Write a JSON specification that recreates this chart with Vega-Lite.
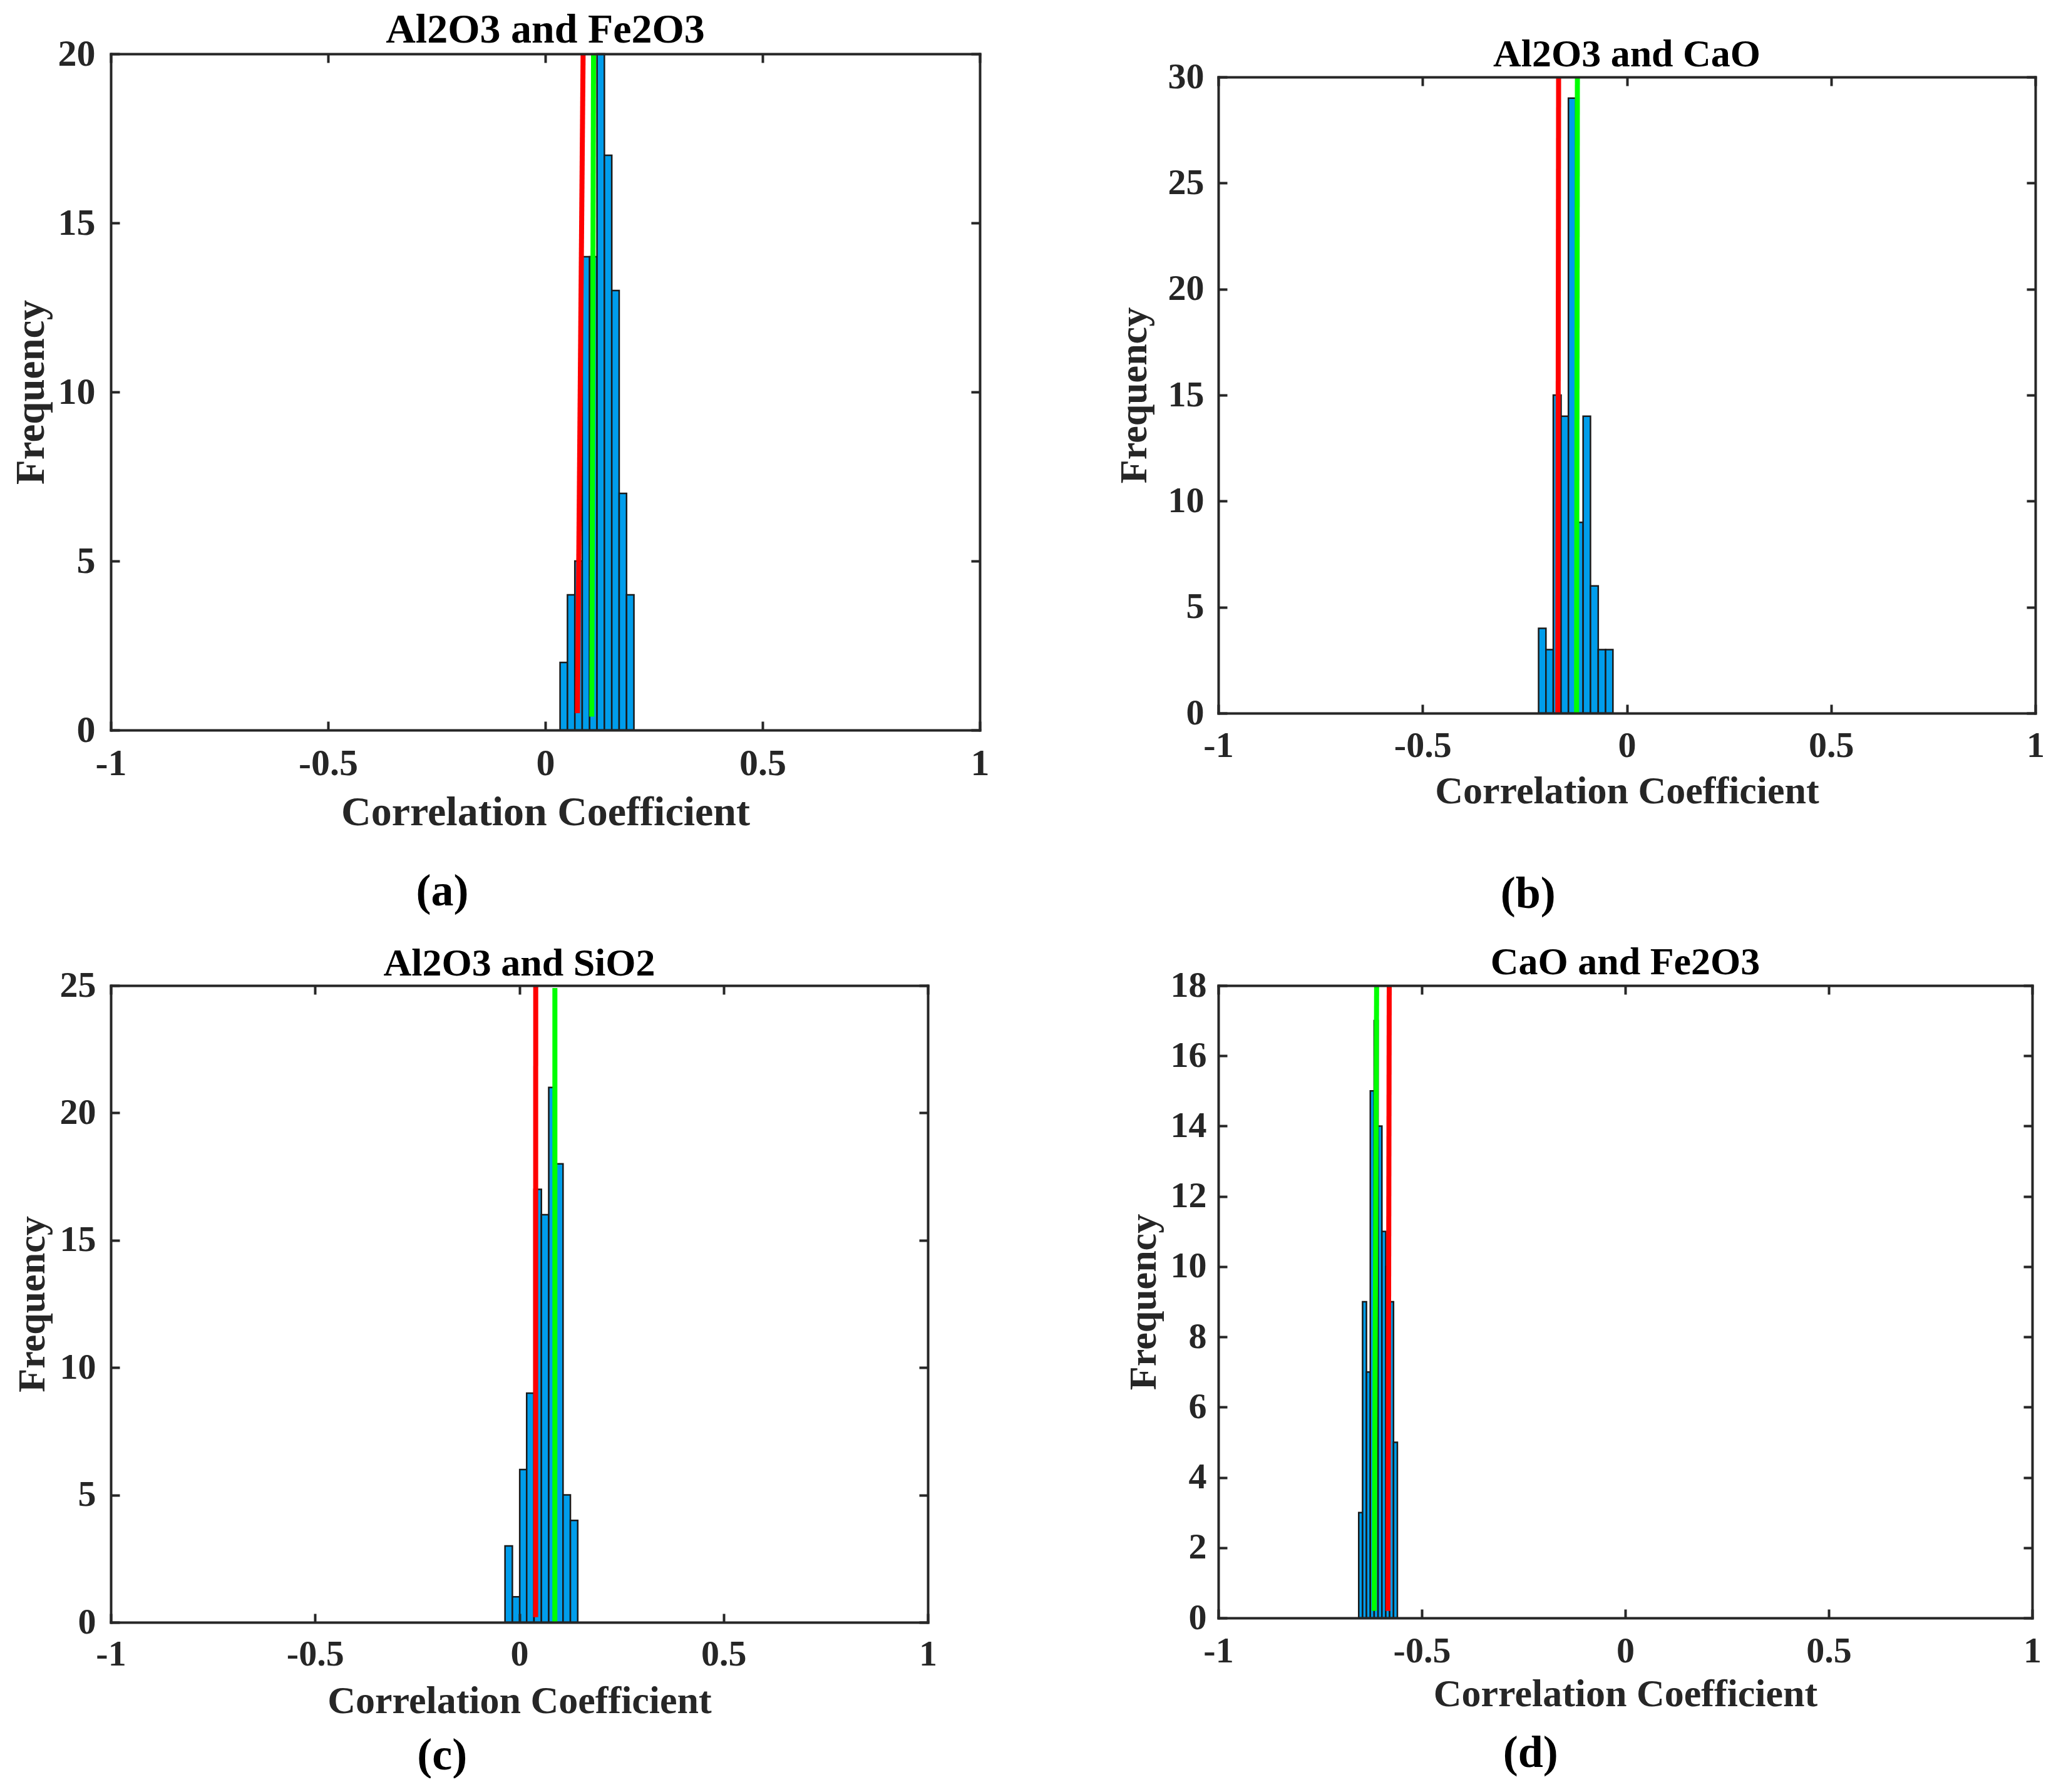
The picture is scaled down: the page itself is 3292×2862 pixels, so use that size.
{
  "$schema": "https://vega.github.io/schema/vega-lite/v6.json",
  "background": "white",
  "padding": {"left": 17, "top": 15, "right": 0, "bottom": 0},
  "config": {
    "font": "Liberation Serif",
    "view": {"stroke": null},
    "title": {"font": "Liberation Serif", "fontWeight": "bold", "color": "#000000", "anchor": "middle"},
    "axis": {
      "labelFont": "Liberation Serif", "titleFont": "Liberation Serif",
      "labelFontWeight": "bold", "titleFontWeight": "bold",
      "labelColor": "#262626", "titleColor": "#262626",
      "domainColor": "#262626", "domainWidth": 4, "domainCap": "square",
      "tickColor": "#262626", "tickWidth": 4, "tickSize": -14,
      "grid": false, "labelFlush": false, "labelOverlap": false
    }
  },
  "datasets": {
    "bars": [
      {"p": "a", "x0": 0.034, "x1": 0.051, "n": 2},
      {"p": "a", "x0": 0.051, "x1": 0.068, "n": 4},
      {"p": "a", "x0": 0.068, "x1": 0.085, "n": 5},
      {"p": "a", "x0": 0.085, "x1": 0.102, "n": 14},
      {"p": "a", "x0": 0.102, "x1": 0.119, "n": 14},
      {"p": "a", "x0": 0.119, "x1": 0.136, "n": 20},
      {"p": "a", "x0": 0.136, "x1": 0.153, "n": 17},
      {"p": "a", "x0": 0.153, "x1": 0.170, "n": 13},
      {"p": "a", "x0": 0.170, "x1": 0.187, "n": 7},
      {"p": "a", "x0": 0.187, "x1": 0.204, "n": 4},
      {"p": "b", "x0": -0.216, "x1": -0.198, "n": 4},
      {"p": "b", "x0": -0.198, "x1": -0.180, "n": 3},
      {"p": "b", "x0": -0.180, "x1": -0.161, "n": 15},
      {"p": "b", "x0": -0.161, "x1": -0.143, "n": 14},
      {"p": "b", "x0": -0.143, "x1": -0.125, "n": 29},
      {"p": "b", "x0": -0.125, "x1": -0.107, "n": 9},
      {"p": "b", "x0": -0.107, "x1": -0.089, "n": 14},
      {"p": "b", "x0": -0.089, "x1": -0.070, "n": 6},
      {"p": "b", "x0": -0.070, "x1": -0.052, "n": 3},
      {"p": "b", "x0": -0.052, "x1": -0.034, "n": 3},
      {"p": "c", "x0": -0.035, "x1": -0.017, "n": 3},
      {"p": "c", "x0": -0.017, "x1": 0.001, "n": 1},
      {"p": "c", "x0": 0.001, "x1": 0.018, "n": 6},
      {"p": "c", "x0": 0.018, "x1": 0.036, "n": 9},
      {"p": "c", "x0": 0.036, "x1": 0.054, "n": 17},
      {"p": "c", "x0": 0.054, "x1": 0.072, "n": 16},
      {"p": "c", "x0": 0.072, "x1": 0.090, "n": 21},
      {"p": "c", "x0": 0.090, "x1": 0.107, "n": 18},
      {"p": "c", "x0": 0.107, "x1": 0.125, "n": 5},
      {"p": "c", "x0": 0.125, "x1": 0.143, "n": 4},
      {"p": "d", "x0": -0.655, "x1": -0.6455, "n": 3},
      {"p": "d", "x0": -0.6455, "x1": -0.636, "n": 9},
      {"p": "d", "x0": -0.636, "x1": -0.6265, "n": 7},
      {"p": "d", "x0": -0.6265, "x1": -0.617, "n": 15},
      {"p": "d", "x0": -0.617, "x1": -0.6075, "n": 17},
      {"p": "d", "x0": -0.6075, "x1": -0.598, "n": 14},
      {"p": "d", "x0": -0.598, "x1": -0.5885, "n": 11},
      {"p": "d", "x0": -0.5885, "x1": -0.579, "n": 10},
      {"p": "d", "x0": -0.579, "x1": -0.5695, "n": 9},
      {"p": "d", "x0": -0.5695, "x1": -0.560, "n": 5}
    ],
    "lines": [
      {"p": "a", "s": "red", "x": 0.074, "y": 0.5},
      {"p": "a", "s": "red", "x": 0.087, "y": 20},
      {"p": "a", "s": "green", "x": 0.107, "y": 0.4},
      {"p": "a", "s": "green", "x": 0.111, "y": 20},
      {"p": "b", "s": "red", "x": -0.169, "y": 0},
      {"p": "b", "s": "red", "x": -0.167, "y": 30},
      {"p": "b", "s": "green", "x": -0.123, "y": 0},
      {"p": "b", "s": "green", "x": -0.121, "y": 30},
      {"p": "c", "s": "red", "x": 0.040, "y": 0.2},
      {"p": "c", "s": "red", "x": 0.0401, "y": 25},
      {"p": "c", "s": "green", "x": 0.087, "y": 0},
      {"p": "c", "s": "green", "x": 0.0871, "y": 24.9},
      {"p": "d", "s": "green", "x": -0.617, "y": 0.2},
      {"p": "d", "s": "green", "x": -0.611, "y": 18},
      {"p": "d", "s": "red", "x": -0.583, "y": 0.2},
      {"p": "d", "s": "red", "x": -0.580, "y": 18}
    ]
  },
  "columns": 2,
  "align": {"row": "each", "column": "each"},
  "center": {"row": true},
  "spacing": {"row": 5, "column": 200},
  "concat": [
    {
      "title": {"text": ["(a)", ""], "orient": "bottom", "anchor": "middle", "dx": -92, "offset": 59, "fontSize": 72, "baseline": "top", "lineHeight": 41},
      "vconcat": [
        {
          "width": 1388, "height": 1080,
          "title": {"text": "Al2O3 and Fe2O3", "fontSize": 66, "offset": -78, "baseline": "alphabetic"},
          "layer": [
            {
              "data": {"name": "bars"},
              "transform": [{"filter": "datum.p === 'a'"}],
              "mark": {"type": "bar", "fill": "#009DEB", "stroke": "#1a1a1a", "strokeWidth": 2.5},
              "encoding": {
                "x": {"field": "x0", "type": "quantitative", "scale": {"domain": [-1, 1], "nice": false, "zero": false},
                  "axis": {"orient": "bottom", "values": [-1, -0.5, 0, 0.5, 1], "labelExpr": "toString(datum.value)", "title": "Correlation Coefficient", "titleFontSize": 66, "labelFontSize": 60, "labelPadding": 38, "titlePadding": 16, "zindex": 1}},
                "x2": {"field": "x1"},
                "y": {"field": "n", "type": "quantitative", "scale": {"domain": [0, 20], "nice": false},
                  "axis": {"orient": "left", "values": [0, 5, 10, 15, 20], "title": "Frequency", "titleFontSize": 65, "labelFontSize": 60, "labelPadding": 39, "titlePadding": 9, "zindex": 1}},
                "y2": {"datum": 0}
              }
            },
            {
              "data": {"name": "lines"},
              "transform": [{"filter": "datum.p === 'a'"}],
              "mark": {"type": "line", "strokeWidth": 8, "strokeCap": "butt"},
              "encoding": {
                "x": {"field": "x", "type": "quantitative", "scale": {"domain": [-1, 1], "nice": false, "zero": false},
                  "axis": {"orient": "top", "values": [-1, -0.5, 0, 0.5, 1], "labels": false, "title": null, "zindex": 1}},
                "y": {"field": "y", "type": "quantitative", "scale": {"domain": [0, 20], "nice": false},
                  "axis": {"orient": "right", "values": [0, 5, 10, 15, 20], "labels": false, "title": null, "zindex": 1}},
                "color": {"field": "s", "type": "nominal", "scale": {"domain": ["red", "green"], "range": ["#FF0000", "#00FF00"]}, "legend": null}
              }
            }
          ],
          "resolve": {"axis": {"x": "independent", "y": "independent"}}
        }
      ]
    },
    {
      "title": {"text": "(b)", "orient": "bottom", "anchor": "middle", "dx": -82, "offset": 99, "fontSize": 72, "baseline": "top"},
      "vconcat": [
        {
          "width": 1305, "height": 1016,
          "title": {"text": "Al2O3 and CaO", "fontSize": 62, "offset": -74, "baseline": "alphabetic"},
          "layer": [
            {
              "data": {"name": "bars"},
              "transform": [{"filter": "datum.p === 'b'"}],
              "mark": {"type": "bar", "fill": "#009DEB", "stroke": "#1a1a1a", "strokeWidth": 2.5},
              "encoding": {
                "x": {"field": "x0", "type": "quantitative", "scale": {"domain": [-1, 1], "nice": false, "zero": false},
                  "axis": {"orient": "bottom", "values": [-1, -0.5, 0, 0.5, 1], "labelExpr": "toString(datum.value)", "title": "Correlation Coefficient", "titleFontSize": 62, "labelFontSize": 58, "labelPadding": 37, "titlePadding": 13, "zindex": 1}},
                "x2": {"field": "x1"},
                "y": {"field": "n", "type": "quantitative", "scale": {"domain": [0, 30], "nice": false},
                  "axis": {"orient": "left", "values": [0, 5, 10, 15, 20, 25, 30], "title": "Frequency", "titleFontSize": 62, "labelFontSize": 58, "labelPadding": 37, "titlePadding": 22, "zindex": 1}},
                "y2": {"datum": 0}
              }
            },
            {
              "data": {"name": "lines"},
              "transform": [{"filter": "datum.p === 'b'"}],
              "mark": {"type": "line", "strokeWidth": 8, "strokeCap": "butt"},
              "encoding": {
                "x": {"field": "x", "type": "quantitative", "scale": {"domain": [-1, 1], "nice": false, "zero": false},
                  "axis": {"orient": "top", "values": [-1, -0.5, 0, 0.5, 1], "labels": false, "title": null, "zindex": 1}},
                "y": {"field": "y", "type": "quantitative", "scale": {"domain": [0, 30], "nice": false},
                  "axis": {"orient": "right", "values": [0, 5, 10, 15, 20, 25, 30], "labels": false, "title": null, "zindex": 1}},
                "color": {"field": "s", "type": "nominal", "scale": {"domain": ["red", "green"], "range": ["#FF0000", "#00FF00"]}, "legend": null}
              }
            }
          ],
          "resolve": {"axis": {"x": "independent", "y": "independent"}}
        }
      ]
    },
    {
      "title": {"text": "(c)", "orient": "bottom", "anchor": "middle", "dx": -52, "offset": 22, "fontSize": 72, "baseline": "top"},
      "vconcat": [
        {
          "width": 1305, "height": 1017,
          "title": {"text": "Al2O3 and SiO2", "fontSize": 62, "offset": -75, "baseline": "alphabetic"},
          "layer": [
            {
              "data": {"name": "bars"},
              "transform": [{"filter": "datum.p === 'c'"}],
              "mark": {"type": "bar", "fill": "#009DEB", "stroke": "#1a1a1a", "strokeWidth": 2.5},
              "encoding": {
                "x": {"field": "x0", "type": "quantitative", "scale": {"domain": [-1, 1], "nice": false, "zero": false},
                  "axis": {"orient": "bottom", "values": [-1, -0.5, 0, 0.5, 1], "labelExpr": "toString(datum.value)", "title": "Correlation Coefficient", "titleFontSize": 62, "labelFontSize": 58, "labelPadding": 36, "titlePadding": 15, "zindex": 1}},
                "x2": {"field": "x1"},
                "y": {"field": "n", "type": "quantitative", "scale": {"domain": [0, 25], "nice": false},
                  "axis": {"orient": "left", "values": [0, 5, 10, 15, 20, 25], "title": "Frequency", "titleFontSize": 62, "labelFontSize": 58, "labelPadding": 38, "titlePadding": 12, "zindex": 1}},
                "y2": {"datum": 0}
              }
            },
            {
              "data": {"name": "lines"},
              "transform": [{"filter": "datum.p === 'c'"}],
              "mark": {"type": "line", "strokeWidth": 8, "strokeCap": "butt"},
              "encoding": {
                "x": {"field": "x", "type": "quantitative", "scale": {"domain": [-1, 1], "nice": false, "zero": false},
                  "axis": {"orient": "top", "values": [-1, -0.5, 0, 0.5, 1], "labels": false, "title": null, "zindex": 1}},
                "y": {"field": "y", "type": "quantitative", "scale": {"domain": [0, 25], "nice": false},
                  "axis": {"orient": "right", "values": [0, 5, 10, 15, 20, 25], "labels": false, "title": null, "zindex": 1}},
                "color": {"field": "s", "type": "nominal", "scale": {"domain": ["red", "green"], "range": ["#FF0000", "#00FF00"]}, "legend": null}
              }
            }
          ],
          "resolve": {"axis": {"x": "independent", "y": "independent"}}
        }
      ]
    },
    {
      "title": {"text": "(d)", "orient": "bottom", "anchor": "middle", "dx": -83, "offset": 29, "fontSize": 72, "baseline": "top"},
      "vconcat": [
        {
          "width": 1300, "height": 1010,
          "title": {"text": "CaO and Fe2O3", "fontSize": 62, "offset": -73, "baseline": "alphabetic"},
          "layer": [
            {
              "data": {"name": "bars"},
              "transform": [{"filter": "datum.p === 'd'"}],
              "mark": {"type": "bar", "fill": "#009DEB", "stroke": "#1a1a1a", "strokeWidth": 2.5},
              "encoding": {
                "x": {"field": "x0", "type": "quantitative", "scale": {"domain": [-1, 1], "nice": false, "zero": false},
                  "axis": {"orient": "bottom", "values": [-1, -0.5, 0, 0.5, 1], "labelExpr": "toString(datum.value)", "title": "Correlation Coefficient", "titleFontSize": 62, "labelFontSize": 58, "labelPadding": 38, "titlePadding": 9, "zindex": 1}},
                "x2": {"field": "x1"},
                "y": {"field": "n", "type": "quantitative", "scale": {"domain": [0, 18], "nice": false},
                  "axis": {"orient": "left", "values": [0, 2, 4, 6, 8, 10, 12, 14, 16, 18], "title": "Frequency", "titleFontSize": 62, "labelFontSize": 58, "labelPadding": 33, "titlePadding": 11, "zindex": 1}},
                "y2": {"datum": 0}
              }
            },
            {
              "data": {"name": "lines"},
              "transform": [{"filter": "datum.p === 'd'"}],
              "mark": {"type": "line", "strokeWidth": 8, "strokeCap": "butt"},
              "encoding": {
                "x": {"field": "x", "type": "quantitative", "scale": {"domain": [-1, 1], "nice": false, "zero": false},
                  "axis": {"orient": "top", "values": [-1, -0.5, 0, 0.5, 1], "labels": false, "title": null, "zindex": 1}},
                "y": {"field": "y", "type": "quantitative", "scale": {"domain": [0, 18], "nice": false},
                  "axis": {"orient": "right", "values": [0, 2, 4, 6, 8, 10, 12, 14, 16, 18], "labels": false, "title": null, "zindex": 1}},
                "color": {"field": "s", "type": "nominal", "scale": {"domain": ["red", "green"], "range": ["#FF0000", "#00FF00"]}, "legend": null}
              }
            }
          ],
          "resolve": {"axis": {"x": "independent", "y": "independent"}}
        }
      ]
    }
  ]
}
